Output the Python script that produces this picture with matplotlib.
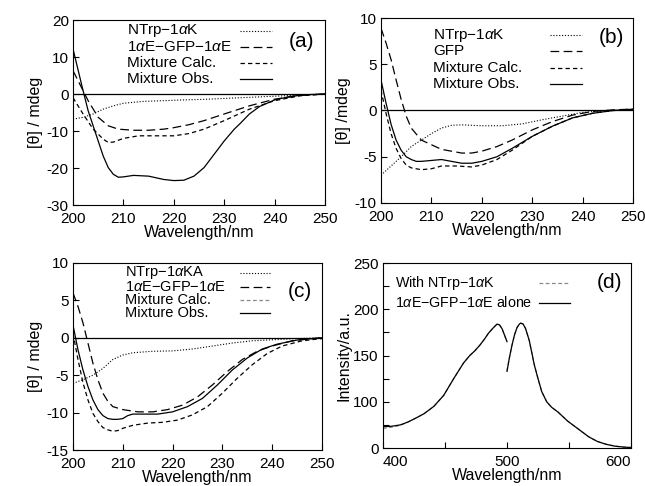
import numpy as np
import matplotlib
matplotlib.use("Agg")
import matplotlib.pyplot as plt

plt.rcParams["font.family"] = ["Liberation Sans", "DejaVu Sans"]
plt.rcParams["mathtext.fontset"] = "custom"
plt.rcParams["mathtext.rm"] = "Liberation Sans"
plt.rcParams["mathtext.it"] = "Liberation Sans:italic"
plt.rcParams["axes.unicode_minus"] = False

# ---- panel (a): CD spectra, NTrp-1aK + 1aE-GFP-1aE ----
a_obs_x = [200, 202, 203, 205, 206, 207, 208, 209, 210, 212, 215, 218, 220, 222, 224,
           226, 228, 230, 232, 233, 235, 237, 240, 243, 246, 250]
a_obs_y = [12.2, 0.9, -4.5, -12.7, -16.8, -19.9, -21.7, -22.5, -22.4, -22.0, -22.2, -23.1,
           -23.4, -23.3, -22.2, -19.9, -16.3, -12.7, -9.5, -8.2, -5.4, -3.4, -1.6, -0.7, -0.2, 0.0]
a_gfp_x = [200, 202, 203, 205, 207, 209, 212, 215, 218, 220, 223, 226, 230, 235, 240, 245, 250]
a_gfp_y = [6.3, 0.9, -1.8, -6.3, -8.6, -9.5, -9.8, -9.8, -9.5, -9.1, -8.3, -7.2, -5.4,
           -3.2, -1.4, -0.4, 0.0]
a_calc_x = [200, 202, 204, 206, 207, 208, 210, 213, 216, 220, 223, 226, 230, 235, 240, 245, 250]
a_calc_y = [-1.0, -5.4, -9.5, -12.2, -13.1, -13.0, -12.0, -11.3, -11.3, -11.3, -10.7, -9.5,
            -7.2, -4.1, -1.8, -0.5, 0.0]
a_ntrp_x = [200, 202, 204, 206, 208, 210, 214, 218, 222, 226, 230, 235, 240, 245, 250]
a_ntrp_y = [-6.8, -6.3, -5.4, -4.1, -3.2, -2.5, -2.0, -1.8, -1.6, -1.45, -1.2, -0.9, -0.6,
            -0.3, 0.0]
a_labels = ["NTrp\u22121$\\alpha$K", "1$\\alpha$E\u2212GFP\u22121$\\alpha$E",
            "Mixture Calc.", "Mixture Obs."]

# ---- panel (b): CD spectra, NTrp-1aK + GFP ----
b_gfp_x = [200, 201, 202, 203, 204, 205, 206, 208, 210, 212, 214, 216, 218, 220, 223, 226,
           230, 234, 238, 242, 246, 250]
b_gfp_y = [8.9, 7.3, 5.5, 3.3, 1.2, -0.6, -1.9, -3.2, -3.7, -4.2, -4.4, -4.6, -4.6, -4.4,
           -3.9, -3.2, -2.1, -1.2, -0.5, -0.1, 0.07, 0.15]
b_obs_x = [200, 201, 202, 203, 204, 205, 206, 207, 208, 210, 212, 214, 216, 218, 220, 223,
           226, 230, 234, 238, 242, 246, 250]
b_obs_y = [3.3, 0.8, -1.5, -3.2, -4.3, -5.0, -5.3, -5.5, -5.5, -5.4, -5.3, -5.5, -5.7, -5.7,
           -5.5, -5.0, -4.1, -2.8, -1.7, -0.8, -0.3, 0.0, 0.15]
b_calc_x = [200, 201, 202, 203, 204, 205, 206, 208, 210, 212, 215, 218, 220, 223, 226, 230,
            234, 238, 242, 246, 250]
b_calc_y = [2.2, -0.3, -2.5, -4.1, -5.2, -5.9, -6.2, -6.4, -6.3, -6.0, -6.0, -6.1, -5.9, -5.3,
            -4.3, -2.8, -1.7, -0.8, -0.3, 0.0, 0.07]
b_ntrp_x = [200, 202, 204, 206, 208, 210, 212, 214, 216, 220, 224, 228, 232, 236, 240, 244, 250]
b_ntrp_y = [-7.0, -6.0, -5.0, -3.9, -3.2, -2.5, -1.9, -1.6, -1.55, -1.65, -1.65, -1.45, -1.0,
            -0.6, -0.2, -0.04, 0.05]
b_labels = ["NTrp\u22121$\\alpha$K", "GFP", "Mixture Calc.", "Mixture Obs."]

# ---- panel (c): CD spectra, NTrp-1aKA + 1aE-GFP-1aE ----
c_gfp_x = [200, 201, 202, 203, 204, 205, 206, 207, 208, 210, 213, 216, 219, 222, 225, 228,
           231, 234, 237, 240, 244, 248, 250]
c_gfp_y = [6.0, 4.2, 2.0, -0.7, -3.4, -5.6, -7.4, -8.5, -9.2, -9.6, -9.9, -9.9, -9.6, -9.0,
           -7.9, -6.3, -4.5, -2.9, -1.8, -1.1, -0.4, -0.1, 0.0]
c_obs_x = [200, 201, 202, 203, 204, 205, 206, 207, 208, 209, 210, 211, 212, 214, 217, 220,
           223, 226, 229, 232, 235, 238, 241, 245, 250]
c_obs_y = [1.7, -1.6, -4.3, -6.5, -8.3, -9.6, -10.4, -10.8, -10.9, -10.9, -10.8, -10.4, -10.2,
           -10.2, -10.2, -9.9, -9.2, -8.1, -6.3, -4.3, -2.7, -1.5, -0.85, -0.3, 0.0]
c_calc_x = [200, 201, 202, 203, 204, 205, 206, 207, 208, 209, 210, 212, 215, 218, 221, 224,
            227, 230, 233, 236, 239, 242, 246, 250]
c_calc_y = [0.6, -2.9, -6.0, -8.3, -10.1, -11.2, -12.0, -12.3, -12.5, -12.4, -12.1, -11.7,
            -11.4, -11.3, -11.0, -10.3, -9.2, -7.4, -5.4, -3.6, -2.1, -1.1, -0.4, -0.1]
c_ntrp_x = [200, 202, 204, 206, 208, 210, 212, 216, 220, 224, 228, 232, 236, 240, 245, 250]
c_ntrp_y = [-6.1, -5.6, -5.0, -4.1, -2.9, -2.3, -2.0, -1.8, -1.75, -1.5, -1.1, -0.7, -0.4,
            -0.27, -0.1, 0.0]
c_labels = ["NTrp\u22121$\\alpha$KA", "1$\\alpha$E\u2212GFP\u22121$\\alpha$E",
            "Mixture Calc.", "Mixture Obs."]

# ---- panel (d): fluorescence, two segments (gap at 500 nm) ----
d_seg1_x = [400, 407, 414, 420, 426, 433, 441, 449, 457, 465, 470, 474, 478, 482, 485, 489,
            492, 494, 496, 498, 500]
d_alone1_y = [73, 73.5, 75, 78, 82, 87, 95, 107, 125, 142, 150, 155, 161, 168, 174, 180,
              184, 183, 179, 172, 165]
d_with1_y = [71, 72.5, 74.5, 78, 82, 87, 95, 107, 125, 142, 150, 155, 161, 168, 174, 180,
             184, 183, 179, 172, 165]
d_seg2_x = [500, 502, 504, 506, 508, 510, 511, 513, 515, 518, 520, 522, 525, 528, 532, 536,
            541, 545, 549, 555, 560, 566, 573, 580, 587, 594, 600]
d_alone2_y = [133, 148, 161, 172, 180, 184, 185, 184, 179, 166, 153, 140, 125, 111, 100, 94,
              89, 84, 79, 73, 68, 62, 57, 54, 52, 51, 50.5]
d_with2_y = d_alone2_y
d_labels = ["With NTrp\u22121$\\alpha$K", "1$\\alpha$E\u2212GFP\u22121$\\alpha$E alone"]
d_yticks = [50, 100, 150, 200, 250]
d_yticklabels = ["0", "100", "150", "200", "250"]

DOT = dict(color="black", lw=0.8, linestyle=(0, (1, 1.6)))
LONG = dict(color="black", lw=0.9, linestyle=(0, (7, 3.5)))
SHORT = dict(color="black", lw=0.9, linestyle=(0, (3.5, 2.5)))
SOLID = dict(color="black", lw=0.9, linestyle="-")
GREYDASH = dict(color="#8a8a8a", lw=0.9, linestyle=(0, (3, 2)))

FS_TICK = 11
FS_KEY = 11
FS_LAB = 11.5
FS_PANEL = 15


def key(ax, tx, lx0, lx1, rows, labels, styles, fs=FS_KEY):
    for y, lab, st in zip(rows, labels, styles):
        ax.text(tx, y, lab, transform=ax.transAxes, fontsize=fs, va="center", ha="left")
        ax.plot([lx0, lx1], [y, y], transform=ax.transAxes, **st)


def style_cd(ax, ylim, yticks, ylabel):
    ax.set_xlim(200, 250)
    ax.set_ylim(*ylim)
    ax.set_xticks(range(200, 251, 10))
    ax.set_yticks(yticks)
    ax.axhline(0, color="black", lw=0.9)
    ax.tick_params(direction="in", length=4.5, width=0.8, labelsize=FS_TICK)
    ax.tick_params(axis="x", pad=5)
    ax.tick_params(axis="y", pad=3)
    ax.set_xlabel("Wavelength/nm", fontsize=FS_LAB, labelpad=-1)
    ax.set_ylabel(ylabel, fontsize=FS_LAB, labelpad=3)
    for s in ax.spines.values():
        s.set_linewidth(0.8)


fig = plt.figure(figsize=(6.45, 4.86), dpi=100)
W, H = 645, 486


def axes_px(l, r, t, b):
    return fig.add_axes([l / W, 1 - b / H, (r - l) / W, (b - t) / H])


# (a)
ax = axes_px(73, 325, 20, 205)
ax.plot(a_ntrp_x, a_ntrp_y, **DOT)
ax.plot(a_gfp_x, a_gfp_y, **LONG)
ax.plot(a_calc_x, a_calc_y, **SHORT)
ax.plot(a_obs_x, a_obs_y, **SOLID)
style_cd(ax, (-30, 20), range(-30, 21, 10), "[\u03b8] / mdeg")
key(ax, 0.214, 0.663, 0.790, [0.941, 0.855, 0.768, 0.680], a_labels, [DOT, LONG, SHORT, SOLID])
ax.text(0.905, 0.886, "(a)", transform=ax.transAxes, fontsize=FS_PANEL, ha="center", va="center")

# (b)
ax = axes_px(381, 633, 18, 203)
ax.plot(b_ntrp_x, b_ntrp_y, **DOT)
ax.plot(b_gfp_x, b_gfp_y, **LONG)
ax.plot(b_calc_x, b_calc_y, **SHORT)
ax.plot(b_obs_x, b_obs_y, **SOLID)
style_cd(ax, (-10, 10), range(-10, 11, 5), "[\u03b8] /mdeg")
key(ax, 0.206, 0.671, 0.798, [0.908, 0.822, 0.730, 0.645], b_labels, [DOT, LONG, SHORT, SOLID])
ax.text(0.913, 0.893, "(b)", transform=ax.transAxes, fontsize=FS_PANEL, ha="center", va="center")

# (c)
ax = axes_px(73, 322, 263, 450)
ax.plot(c_ntrp_x, c_ntrp_y, **DOT)
ax.plot(c_gfp_x, c_gfp_y, **LONG)
ax.plot(c_calc_x, c_calc_y, **SHORT)
ax.plot(c_obs_x, c_obs_y, **SOLID)
style_cd(ax, (-15, 10), range(-15, 11, 5), "[\u03b8] / mdeg")
key(ax, 0.209, 0.671, 0.791, [0.947, 0.870, 0.800, 0.730], c_labels, [DOT, LONG, GREYDASH, SOLID],
    fs=10.5)
ax.text(0.912, 0.845, "(c)", transform=ax.transAxes, fontsize=FS_PANEL, ha="center", va="center")

# (d)
ax = axes_px(383, 631, 263, 448)
ax.plot(d_seg1_x, d_with1_y, **GREYDASH)
ax.plot(d_seg2_x, d_with2_y, **GREYDASH)
ax.plot(d_seg1_x, d_alone1_y, **SOLID)
ax.plot(d_seg2_x, d_alone2_y, **SOLID)
ax.set_xlim(400, 600)
ax.set_ylim(50, 250)
ax.set_xticks([400, 450, 500, 550, 600])
ax.set_xticklabels(["400", "", "500", "", "600"])
ax.set_yticks(d_yticks)
ax.set_yticklabels(d_yticklabels)
ax.set_yticks(range(75, 250, 50), minor=True)
ax.tick_params(which="both", direction="in", length=4.5, width=0.8, labelsize=FS_TICK)
ax.tick_params(axis="x", pad=5)
ax.tick_params(axis="y", pad=3)
labs = ax.get_xticklabels()
labs[0].set_ha("left")
labs[-1].set_ha("right")
ax.set_xlabel("Wavelength/nm", fontsize=FS_LAB, labelpad=-1)
ax.set_ylabel("Intensity/a.u.", fontsize=FS_LAB, labelpad=1)
for s in ax.spines.values():
    s.set_linewidth(0.8)
key(ax, 0.048, 0.630, 0.754, [0.892, 0.784], d_labels, [GREYDASH, SOLID], fs=10.3)
ax.text(0.915, 0.892, "(d)", transform=ax.transAxes, fontsize=FS_PANEL, ha="center", va="center")

fig.savefig("out.png", dpi=100)
